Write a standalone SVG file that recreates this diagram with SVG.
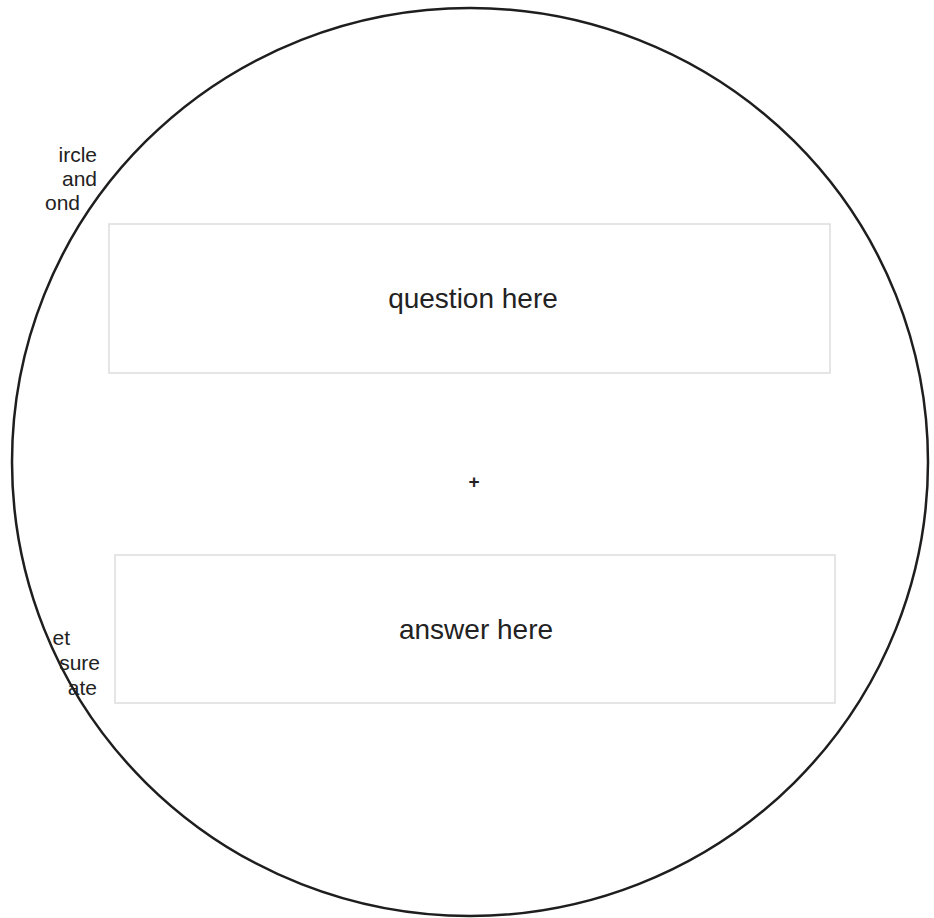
<svg xmlns="http://www.w3.org/2000/svg" width="934" height="918" viewBox="0 0 934 918">
<style>
.t{font-family:"Liberation Sans",Arial,sans-serif;font-size:21px;fill:#222}
.lbl{font-family:"Liberation Sans",Arial,sans-serif;font-size:28px;fill:#222}
.box{fill:#fff;stroke:#ddd;stroke-width:1.5}
.c{fill:none;stroke:#1e1e1e;stroke-width:2.5}
</style>
<rect width="934" height="918" fill="#fff"/>
<g id="notes">
<text class="t" x="97" y="162" text-anchor="end">ircle</text>
<text class="t" x="97" y="186" text-anchor="end">and</text>
<text class="t" x="80" y="210" text-anchor="end">ond</text>
<text class="t" x="70" y="645" text-anchor="end">et</text>
<text class="t" x="100" y="670" text-anchor="end">sure</text>
<text class="t" x="97" y="695" text-anchor="end">ate</text>
</g>
<g id="circle"><ellipse class="c" cx="470" cy="462" rx="458" ry="454"/></g>
<g id="question">
<rect class="box" x="109" y="224" width="721" height="149"/>
<text class="lbl" x="473" y="308" text-anchor="middle">question here</text>
</g>
<g id="center"><text x="474" y="488" text-anchor="middle" style="font-family:'Liberation Sans',Arial,sans-serif;font-size:19px;font-weight:bold;fill:#222">+</text></g>
<g id="answer">
<rect class="box" x="115" y="555" width="720" height="148"/>
<text class="lbl" x="476" y="639" text-anchor="middle">answer here</text>
</g>
<g id="connectors"/>
</svg>
